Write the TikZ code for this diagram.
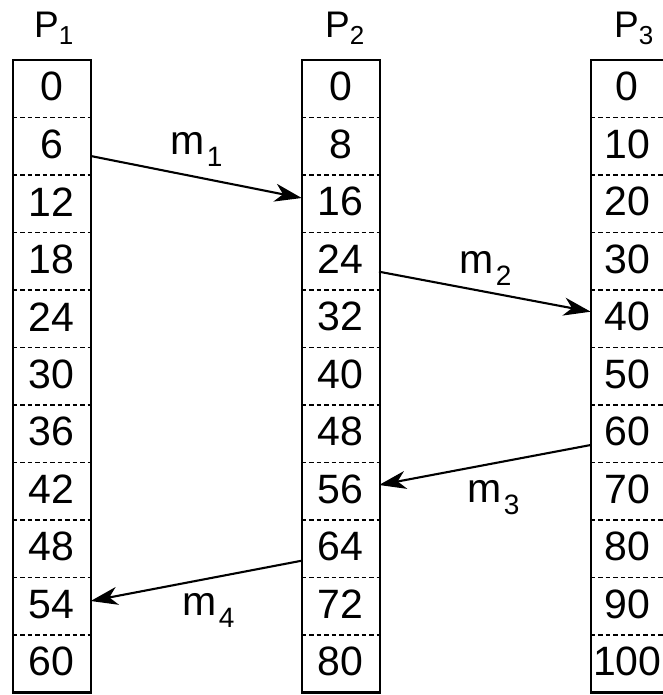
\documentclass[tikz,border=0pt]{standalone}
\usepackage{fontspec}
\setmainfont{Liberation Sans}
\usetikzlibrary{arrows.meta}
\newcommand\msubscr[1]{\kern2pt\raisebox{-12pt}{\fontsize{28}{28}\selectfont #1}}
\newcommand\psubscr[1]{\raisebox{-7pt}{\fontsize{26}{26}\selectfont #1}}
\begin{document}
\begin{tikzpicture}[x=1pt,y=-1pt,
  num/.style={font=\fontsize{41}{41}\selectfont, inner sep=0pt},
  colbox/.style={line width=2.2pt},
  sepline/.style={line width=1.4pt, dash pattern=on 4.5pt off 3pt},
  msg/.style={line width=2.1pt, -{Stealth[length=27pt,width=18pt,inset=8pt]}},
  lab/.style={font=\fontsize{41}{41}\selectfont, inner sep=0pt, anchor=base west},
  plab/.style={font=\fontsize{37}{37}\selectfont, inner sep=0pt, anchor=base west}]
\useasboundingbox (0,0) rectangle (662,695);
\foreach \c/\xl/\st/\tx in {1/12.7/6/39, 2/301.7/8/39, 3/590.7/10/36.5} {
  \foreach \i in {1,...,10} {
    \draw[sepline] (\xl,60+\i*57.5) -- (\xl+78,60+\i*57.5);
  }
  \foreach \i in {0,...,10} {
    \pgfmathtruncatemacro\v{\i*\st}
    \node[num] (c\c-\i) at (\xl+\tx, 60+\i*57.5+28.75-2) {\v};
  }
  \draw[colbox] (\xl,60) rectangle (\xl+78,692.5);
}
\node[plab] (p1) at (34,38) {P\psubscr{1}};
\node[plab] (p2) at (325,38) {P\psubscr{2}};
\node[plab] (p3) at (614,38) {P\psubscr{3}};
\coordinate (a1) at (90.7,156);
\coordinate (b1) at (301.7,198);
\coordinate (a2) at (379,271.7);
\coordinate (b2) at (590.7,311.7);
\coordinate (a3) at (590.7,445);
\coordinate (b3) at (379,485);
\coordinate (a4) at (301.7,560.7);
\coordinate (b4) at (90.7,601);
\draw[msg] (a1) -- (b1);
\draw[msg] (a2) -- (b2);
\draw[msg] (a3) -- (b3);
\draw[msg] (a4) -- (b4);
\node[lab] (m1) at (170.5,155) {m\msubscr{1}};
\node[lab] (m2) at (459.5,273) {m\msubscr{2}};
\node[lab] (m3) at (467.5,502) {m\msubscr{3}};
\node[lab] (m4) at (182.5,615) {m\msubscr{4}};
\end{tikzpicture}
\end{document}
